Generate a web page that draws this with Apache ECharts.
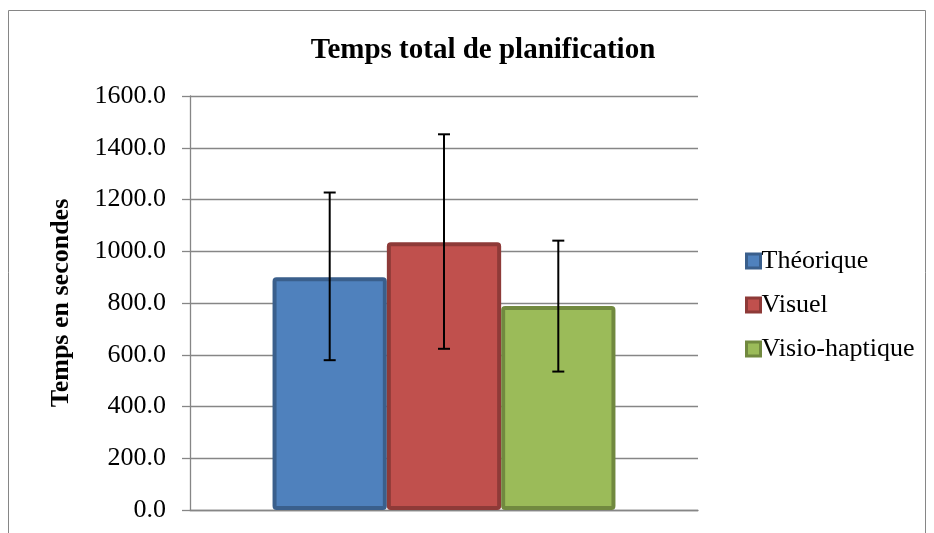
<!DOCTYPE html>
<html><head><meta charset="utf-8">
<script src="https://cdn.jsdelivr.net/npm/echarts@6/dist/echarts.min.js"></script>
<style>html,body{margin:0;padding:0;background:#fff}#c{width:934px;height:533px}</style>
</head><body><div id="c"></div>
<script>
const categories = [''];
const seriesNames = ['Théorique', 'Visuel', 'Visio-haptique'];
const means = [900, 1035, 788];
const errLow = [579, 623, 535];
const errHigh = [1227, 1452, 1041];
const yTicks = [0, 200, 400, 600, 800, 1000, 1200, 1400, 1600];

const fills = ['#4F81BD', '#C0504D', '#9BBB59'];
const borders = ['#3A5F8C', '#8E3A38', '#71893F'];
const catGapFrac = 0.325;
const font = 'Liberation Serif, Times New Roman, serif';

const chart = echarts.init(document.getElementById('c'));
const series = seriesNames.map((n, i) => ({
  name: n, type: 'bar', data: [means[i]], barGap: '0%', barCategoryGap: (catGapFrac*100)+'%',
  itemStyle: { color: fills[i], borderColor: borders[i], borderWidth: 4, borderRadius: 2 },
  emphasis: { disabled: true }
}));
series.push({
  type: 'custom', silent: true, z: 10,
  data: seriesNames.map((n, i) => [0, errLow[i], errHigh[i], i]),
  renderItem: function (params, api) {
    const lo = api.coord([api.value(0), api.value(1)]);
    const hi = api.coord([api.value(0), api.value(2)]);
    const catW = api.size([1, 0])[0];
    const bw = catW * (1 - catGapFrac) / 3;
    const x = lo[0] + (api.value(3) - 1) * bw;
    const cap = 6;
    const st = { stroke: '#000', lineWidth: 2 };
    return { type: 'group', children: [
      { type: 'line', shape: { x1: x, y1: lo[1], x2: x, y2: hi[1] }, style: st },
      { type: 'line', shape: { x1: x - cap, y1: lo[1], x2: x + cap, y2: lo[1] }, style: st },
      { type: 'line', shape: { x1: x - cap, y1: hi[1], x2: x + cap, y2: hi[1] }, style: st }
    ]};
  }
});

chart.setOption({
  animation: false,
  title: { text: 'Temps total de planification', left: 478, top: 31, textAlign: 'center',
    textStyle: { fontFamily: font, fontSize: 29, fontWeight: 'bold', color: '#000' } },
  graphic: [{ type: 'rect', shape: { x: 8.5, y: 10.5, width: 917, height: 540 },
    style: { fill: null, stroke: '#868686', lineWidth: 1 }, silent: true }],
  legend: {
    orient: 'vertical', left: 740, top: 243, itemGap: 18, itemWidth: 14, itemHeight: 14,
    icon: 'rect',
    textStyle: { fontFamily: font, fontSize: 26, color: '#000', padding: [0, 0, 0, -4] },
    data: seriesNames.map((n, i) => ({ name: n, itemStyle: { color: fills[i], borderColor: borders[i], borderWidth: 3 } }))
  },
  grid: { left: 190, right: 236, top: 96, bottom: 23 },
  xAxis: { type: 'category', data: categories,
    axisLine: { show: true, lineStyle: { color: '#868686', width: 1.3 } },
    axisTick: { show: false }, axisLabel: { show: false } },
  yAxis: { type: 'value', min: yTicks[0], max: yTicks[yTicks.length-1], interval: 200,
    name: 'Temps en secondes', nameLocation: 'middle', nameGap: 116, nameRotate: 90,
    nameTextStyle: { fontFamily: font, fontSize: 26, fontWeight: 'bold', color: '#000' },
    axisLine: { show: true, lineStyle: { color: '#868686', width: 1.3 } },
    axisTick: { show: true, length: 8, lineStyle: { color: '#868686', width: 1.3 } },
    splitLine: { lineStyle: { color: '#868686', width: 1.3 } },
    axisLabel: { margin: 24, fontFamily: font, fontSize: 26, color: '#000',
      formatter: v => v.toFixed(1) } },
  series: series
});
</script></body></html>
